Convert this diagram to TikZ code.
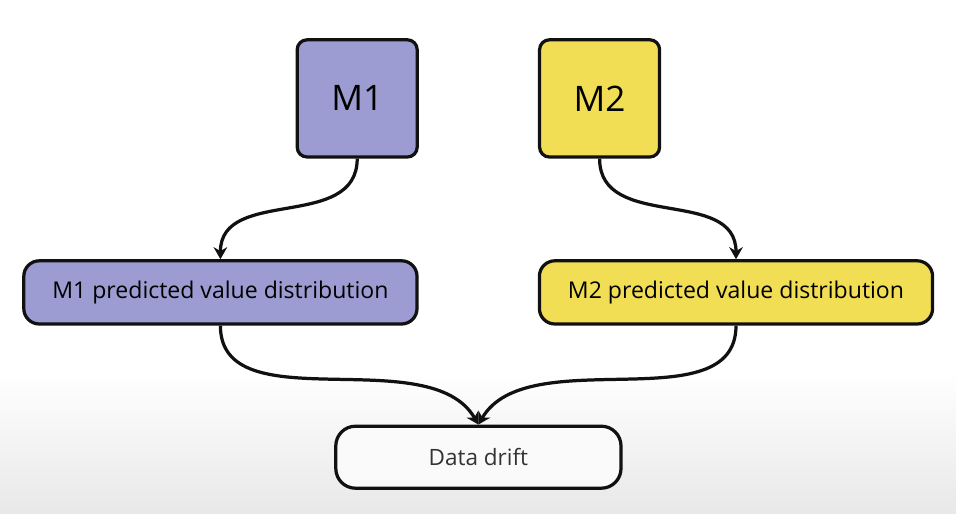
\documentclass[tikz,border=0pt]{standalone}
\usepackage{fontspec}
\setsansfont{Open Sans}
\usetikzlibrary{arrows.meta, positioning}
\definecolor{cpurple}{HTML}{9C9CD2}
\definecolor{cyellow}{HTML}{F1DE55}
\definecolor{cdark}{HTML}{111111}
\tikzset{
  every picture/.style={font=\sffamily, line width=2.3pt},
  model/.style={draw=cdark, fill=#1, rounded corners=7pt, minimum width=3cm, minimum height=2.93cm, font=\sffamily\fontsize{25}{28}\selectfont},
  dist/.style={draw=cdark, fill=#1, rounded corners=11pt, minimum width=9.83cm, minimum height=1.58cm, font=\sffamily\fontsize{16.4}{18}\selectfont},
  result/.style={draw=cdark, fill=white!98!black, rounded corners=14pt, minimum width=7.13cm, minimum height=1.55cm, font=\sffamily\fontsize{16}{18}\selectfont, text=black!80},
  arrow/.style={-{Stealth[length=3mm, width=3.4mm]}, draw=cdark, line width=2.3pt},
}
\begin{document}
\begin{tikzpicture}
  % background
  \useasboundingbox (0,0) rectangle (23.9,-12.85);
  \fill[white] (0,0) rectangle (23.9,-9.3);
  \shade[top color=white, bottom color=black!9] (0,-9.3) rectangle (23.9,-12.85);
  % models
  \node[model=cpurple] (m1) at (8.93,-2.46) {M1};
  \node[model=cyellow] (m2) at (14.99,-2.46) {M2};
  % predicted value distributions
  \node[dist=cpurple] (d1) at (5.51,-7.31) {M1 predicted value distribution};
  \node[dist=cyellow] (d2) at (18.40,-7.31) {M2 predicted value distribution};
  % drift
  \node[result] (drift) at (11.96,-11.43) {Data drift};
  \draw[arrow] (m1.south) to[out=-90, in=90, looseness=1.1] (d1.north);
  \draw[arrow] (m2.south) to[out=-90, in=90, looseness=1.1] (d2.north);
  \draw[arrow] (d1.south) to[out=-90, in=120, looseness=0.9] (drift.north);
  \draw[arrow] (d2.south) to[out=-90, in=60, looseness=0.9] (drift.north);
\end{tikzpicture}
\end{document}
